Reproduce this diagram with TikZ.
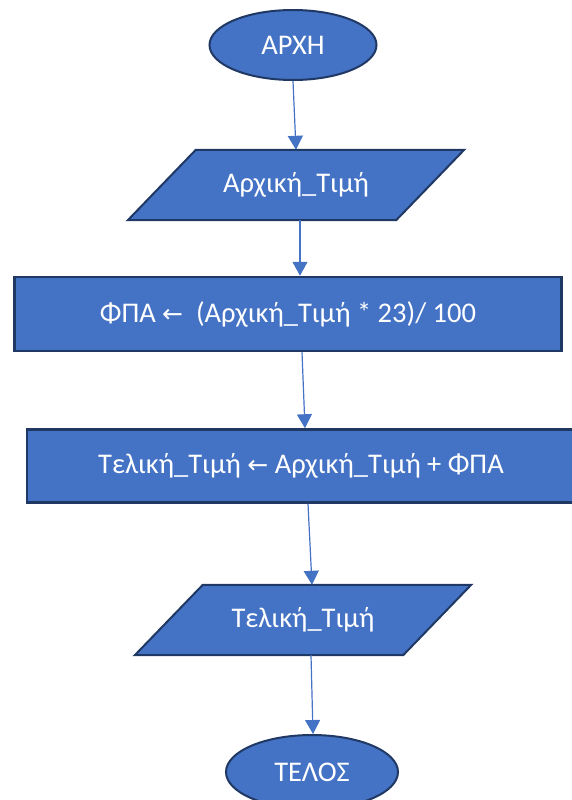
\documentclass[tikz,border=0pt]{standalone}
\usepackage{fontspec}
\setmainfont{Carlito}
\newfontfamily\arrowfont{DejaVu Sans}
\usetikzlibrary{shapes.geometric,arrows.meta,backgrounds}
\definecolor{boxblue}{HTML}{4472C4}
\definecolor{boxline}{HTML}{203864}
\newcommand{\larr}{{\arrowfont\fontsize{25}{28}\selectfont ←}}

\begin{document}
\begin{tikzpicture}[x=1pt,y=-1pt,
    every node/.style={font=\fontsize{28.5}{32}\selectfont, text=white},
    terminal/.style={ellipse, draw=boxline, line width=2pt, fill=boxblue,
      minimum width=167pt, minimum height=70pt, inner sep=0pt},
    io/.style={rectangle, minimum width=268pt, minimum height=70pt, inner sep=0pt},
    iobox/.style={draw=boxline, line width=2pt, fill=boxblue, line join=miter},
    process/.style={rectangle, draw=boxline, line width=2.5pt, fill=boxblue,
      minimum height=74pt, inner sep=0pt},
    flow/.style={draw=boxblue, line width=1.2pt, -{Triangle[width=15pt,length=14pt]}}]

      \useasboundingbox (0,0) rectangle (572,800);

      \node[terminal] (start) at (293,45) {ΑΡΧΗ};
      \node[io] (in) at (296,185) {Αρχική\_Τιμή};
      \node[process, minimum width=547pt] (vat) at (288,314) {ΦΠΑ \larr\ \ (Αρχική\_Τιμή * 23)/ 100};
      \node[process, minimum width=548pt, minimum height=73pt] (total) at (301,466) {Τελική\_Τιμή \larr{} Αρχική\_Τιμή + ΦΠΑ};
      \node[io] (out) at (303,620) {Τελική\_Τιμή};
      \node[terminal, minimum width=172pt, minimum height=74pt] (end) at (312,772) {ΤΕΛΟΣ};

      \begin{scope}[on background layer]
        \foreach \p in {in,out}
          \draw[iobox] ([xshift=34pt]\p.north west) -- ([xshift=34pt]\p.north east)
            -- ([xshift=-34pt]\p.south east) -- ([xshift=-34pt]\p.south west) -- cycle;
      \end{scope}

      \draw[flow] (start.south) -- (in.north);
      \draw[flow] ([xshift=4pt]in.south) -- ([xshift=12pt]vat.north);
      \draw[flow] ([xshift=14pt]vat.south) -- ([xshift=4pt]total.north);
      \draw[flow] ([xshift=7pt]total.south) -- ([xshift=9pt]out.north);
      \draw[flow] ([xshift=8pt]out.south) -- ([xshift=1pt]end.north);
    \end{tikzpicture}
\end{document}
